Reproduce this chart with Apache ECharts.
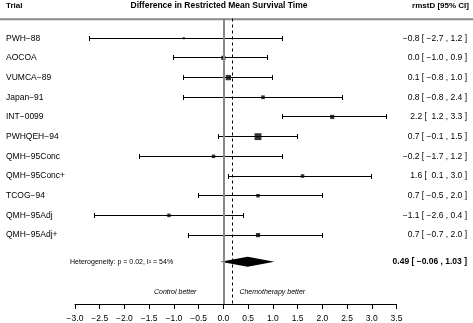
<!DOCTYPE html>
<html>
<head>
<meta charset="utf-8">
<script src="https://cdn.jsdelivr.net/npm/echarts@6/dist/echarts.min.js"></script>
<style>
  html, body { margin: 0; padding: 0; background: #fff; }
  #main { width: 473px; height: 323px; }
</style>
</head>
<body>
<div id="main"></div>
<script>
// 试验数据
const trials = ['PWH−88', 'AOCOA', 'VUMCA−89', 'Japan−91', 'INT−0099', 'PWHQEH−94',
  'QMH−95Conc', 'QMH−95Conc+', 'TCOG−94', 'QMH−95Adj', 'QMH−95Adj+'];
const estimates = [-0.8, 0.0, 0.1, 0.8, 2.2, 0.7, -0.2, 1.6, 0.7, -1.1, 0.7];
const lower = [-2.7, -1.0, -0.8, -0.8, 1.2, -0.1, -1.7, 0.1, -0.5, -2.6, -0.7];
const upper = [1.2, 0.9, 1.0, 2.4, 3.3, 1.5, 1.2, 3.0, 2.0, 0.4, 2.0];
const weights = [2.3, 9.1, 14.3, 7.0, 9.1, 24.0, 6.3, 6.3, 6.3, 6.3, 9.1]; // 估计的权重(%)

// 合并效应
const pooled = { est: 0.49, lo: -0.06, hi: 1.03 };
const heterogeneity = 'Heterogeneity: p = 0.02, I² = 54%';
const refLine = 0.17; // 虚线位置

const xTicks = { min: -3.0, max: 3.5, step: 0.5 };

const summaryRow = 11.35;
const noteRow = 12.87;

const FONT = '"Liberation Sans", Arial, Helvetica, sans-serif';
const minus = s => s.replace(/-/g, '−');
const crisp = v => Math.round(v - 0.5) + 0.5;

function fmt(v, pad) {
  const s = v.toFixed(1);
  return minus(pad && v >= 0 ? ' ' + s : s);
}
const ciText = trials.map((t, i) =>
  fmt(estimates[i]) + ' [ ' + fmt(lower[i], true) + ' , ' + fmt(upper[i]) + ' ]');
const pooledText = minus(pooled.est.toFixed(2) + ' [ ' + pooled.lo.toFixed(2) + ' , ' + pooled.hi.toFixed(2) + ' ]');

const chart = echarts.init(document.getElementById('main'));

chart.setOption({
  animation: false,
  grid: { left: 75, right: 76.5, top: 18.5, bottom: 18.7, containLabel: false },
  xAxis: {
    type: 'value',
    min: xTicks.min, max: xTicks.max, interval: xTicks.step,
    splitLine: { show: false },
    axisLine: { onZero: false, lineStyle: { color: '#000', width: 1 } },
    axisTick: { length: 5, lineStyle: { color: '#000' } },
    axisLabel: {
      margin: 10, color: '#000', fontSize: 8.5, fontFamily: FONT,
      formatter: v => minus(v.toFixed(1))
    }
  },
  yAxis: {
    type: 'value', min: -1, max: 13.5, inverse: true, show: false
  },
  graphic: [
    { type: 'line', shape: { x1: 0, y1: 19.3, x2: 473, y2: 19.3 }, style: { stroke: '#888', lineWidth: 2 } },
    { type: 'text', x: 6, y: 5.5, style: { text: 'Trial', font: 'bold 8px ' + FONT, fill: '#000', verticalAlign: 'middle' } },
    { type: 'text', x: 219, y: 5.5, style: { text: 'Difference in Restricted Mean Survival Time', font: 'bold 8.5px ' + FONT, fill: '#000', align: 'center', verticalAlign: 'middle' } },
    { type: 'text', x: 469, y: 5.5, style: { text: 'rmstD [95% CI]', font: 'bold 8px ' + FONT, fill: '#000', align: 'right', verticalAlign: 'middle' } }
  ],
  series: [
    {
      // 置信区间
      type: 'custom',
      data: trials.map((t, i) => [i, lower[i], upper[i]]),
      renderItem: (params, api) => {
        const row = api.value(0);
        const a = api.coord([api.value(1), row]);
        const b = api.coord([api.value(2), row]);
        const y = crisp(a[1]);
        const x1 = crisp(a[0]), x2 = crisp(b[0]);
        const st = { stroke: '#000', lineWidth: 1 };
        return {
          type: 'group',
          children: [
            { type: 'line', shape: { x1: x1, y1: y, x2: x2, y2: y }, style: st },
            { type: 'line', shape: { x1: x1, y1: y - 2.5, x2: x1, y2: y + 2.5 }, style: st },
            { type: 'line', shape: { x1: x2, y1: y - 2.5, x2: x2, y2: y + 2.5 }, style: st }
          ]
        };
      },
      markLine: {
        silent: true, symbol: 'none', label: { show: false },
        data: [
          { xAxis: 0, lineStyle: { color: '#888', width: 2, type: 'solid' } },
          { xAxis: refLine, lineStyle: { color: '#000', width: 1, type: [3, 3] } }
        ]
      }
    },
    {
      // 点估计方块
      type: 'scatter',
      symbol: 'rect',
      data: estimates.map((e, i) => [e, i, weights[i]]),
      symbolSize: v => 1.4 * Math.sqrt(v[2]),
      itemStyle: { color: '#000' }
    },
    {
      // 合并效应菱形
      type: 'custom',
      data: [[pooled.lo, pooled.est, pooled.hi, summaryRow]],
      renderItem: (params, api) => {
        const row = api.value(3);
        const l = api.coord([api.value(0), row]);
        const c = api.coord([api.value(1), row]);
        const r = api.coord([api.value(2), row]);
        return {
          type: 'polygon',
          shape: { points: [[l[0], l[1]], [c[0], c[1] - 5], [r[0], r[1]], [c[0], c[1] + 5]] },
          style: { fill: '#000' }
        };
      }
    },
    {
      // 左右两侧文字
      type: 'custom',
      clip: false,
      data: trials.map((t, i) => [0, i]),
      renderItem: (params, api) => {
        const i = params.dataIndex;
        const p = api.coord([0, api.value(1)]);
        const w = api.getWidth();
        return {
          type: 'group',
          children: [
            { type: 'text', x: 6, y: p[1], style: { text: trials[i], font: '8.5px ' + FONT, fill: '#000', align: 'left', verticalAlign: 'middle' } },
            { type: 'text', x: w - 6, y: p[1], style: { text: ciText[i], font: '8.5px ' + FONT, fill: '#000', align: 'right', verticalAlign: 'middle' } }
          ]
        };
      }
    },
    {
      // 汇总行和注释
      type: 'custom',
      clip: false,
      data: [[0, summaryRow, noteRow]],
      renderItem: (params, api) => {
        const p = api.coord([0, api.value(1)]);
        const q = api.coord([0, api.value(2)]);
        const w = api.getWidth();
        return {
          type: 'group',
          children: [
            { type: 'text', x: 70, y: p[1], style: { text: heterogeneity, font: '7px ' + FONT, fill: '#000', align: 'left', verticalAlign: 'middle' } },
            { type: 'text', x: w - 6, y: p[1], style: { text: pooledText, font: 'bold 8.5px ' + FONT, fill: '#000', align: 'right', verticalAlign: 'middle' } },
            { type: 'text', x: q[0] - 27, y: q[1], style: { text: 'Control better', font: 'italic 7px ' + FONT, fill: '#000', align: 'right', verticalAlign: 'middle' } },
            { type: 'text', x: q[0] + 16, y: q[1], style: { text: 'Chemotherapy better', font: 'italic 7px ' + FONT, fill: '#000', align: 'left', verticalAlign: 'middle' } }
          ]
        };
      }
    }
  ]
});
</script>
</body>
</html>
